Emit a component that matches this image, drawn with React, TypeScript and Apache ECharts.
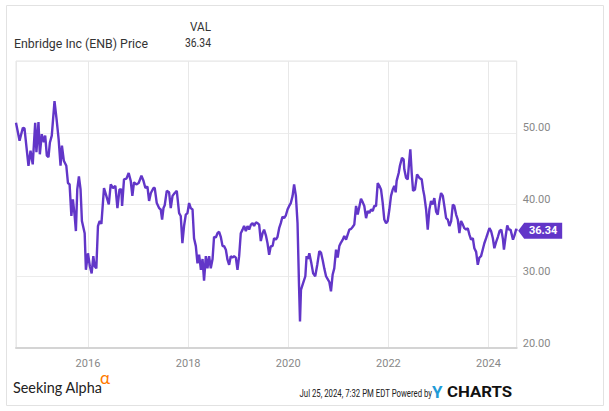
import React, { useEffect, useRef } from "react";
import * as echarts from "echarts";

const dates: string[] = [
  "2014-07-25","2014-08-20","2014-09-13","2014-09-25","2014-10-24","2014-11-08","2014-11-24","2014-12-12","2014-12-21",
  "2015-01-05","2015-01-15","2015-01-29","2015-02-13","2015-02-23","2015-03-07","2015-03-19","2015-03-29","2015-04-12","2015-05-02",
  "2015-05-17","2015-06-01","2015-06-15","2015-06-25","2015-07-09","2015-07-27","2015-08-08","2015-08-20","2015-09-02","2015-09-13",
  "2015-09-26","2015-10-05","2015-10-15","2015-10-27","2015-11-08","2015-11-18","2015-12-08","2015-12-17",
  "2016-01-01","2016-01-15","2016-01-28","2016-02-09","2016-02-19","2016-03-02","2016-03-14","2016-03-26","2016-04-08","2016-04-27",
  "2016-05-14","2016-06-01","2016-06-15","2016-07-02","2016-07-19","2016-08-03","2016-08-18","2016-09-01","2016-09-06","2016-09-20",
  "2016-10-08","2016-10-24","2016-11-08","2016-11-20","2016-12-02","2016-12-19",
  "2017-01-05","2017-01-25","2017-02-09","2017-02-23","2017-03-10","2017-03-22","2017-04-04","2017-04-23","2017-05-02","2017-05-17",
  "2017-06-03","2017-06-15","2017-06-25","2017-07-05","2017-07-14","2017-07-29","2017-08-15","2017-08-27","2017-09-09","2017-09-25",
  "2017-10-10","2017-10-27","2017-11-08","2017-11-20","2017-12-02","2017-12-15","2017-12-27",
  "2018-01-08","2018-01-20","2018-02-02","2018-02-13","2018-02-26","2018-03-10","2018-03-22","2018-04-04","2018-04-16","2018-04-27",
  "2018-05-10","2018-05-22","2018-06-03","2018-06-15","2018-06-28","2018-07-09","2018-07-22","2018-08-03","2018-08-15","2018-08-27",
  "2018-09-09","2018-09-20","2018-10-03","2018-10-15","2018-10-27","2018-11-08","2018-11-20","2018-12-02","2018-12-15","2018-12-27",
  "2019-01-08","2019-01-20","2019-02-02","2019-02-13","2019-02-26","2019-03-10","2019-03-22","2019-04-04","2019-04-16","2019-04-27",
  "2019-05-10","2019-05-22","2019-06-03","2019-06-15","2019-06-28","2019-07-09","2019-07-22","2019-08-03","2019-08-15","2019-08-27",
  "2019-09-09","2019-09-20","2019-10-03","2019-10-15","2019-10-27","2019-11-08","2019-11-20","2019-12-02","2019-12-15","2019-12-27",
  "2020-01-08","2020-01-20","2020-02-02","2020-02-13","2020-02-26","2020-03-09","2020-03-20","2020-03-27","2020-04-03","2020-04-18",
  "2020-05-05","2020-05-14","2020-05-24","2020-06-03","2020-06-18","2020-07-01","2020-07-16","2020-07-31","2020-08-15","2020-08-27",
  "2020-09-09","2020-09-20","2020-10-03","2020-10-15","2020-10-27","2020-11-08","2020-11-20","2020-12-02","2020-12-15","2020-12-27",
  "2021-01-08","2021-01-20","2021-02-02","2021-02-13","2021-02-26","2021-03-10","2021-03-22","2021-04-04","2021-04-16","2021-04-27",
  "2021-05-10","2021-05-22","2021-06-03","2021-06-15","2021-06-28","2021-07-09","2021-07-22","2021-08-03","2021-08-15","2021-08-27",
  "2021-09-09","2021-09-20","2021-10-03","2021-10-15","2021-10-27","2021-11-08","2021-11-20","2021-12-02","2021-12-15","2021-12-27",
  "2022-01-08","2022-01-20","2022-02-02","2022-02-13","2022-02-23","2022-03-02","2022-03-17","2022-03-26","2022-04-10","2022-04-22",
  "2022-04-27","2022-05-10","2022-05-22","2022-06-03","2022-06-10","2022-06-20","2022-06-30","2022-07-14","2022-07-29","2022-08-15",
  "2022-09-01","2022-09-11","2022-09-20","2022-10-03","2022-10-15","2022-10-27","2022-11-08","2022-11-20","2022-12-02","2022-12-15",
  "2022-12-27",
  "2023-01-08","2023-01-20","2023-02-02","2023-02-13","2023-02-26","2023-03-10","2023-03-22","2023-04-04","2023-04-16","2023-04-27",
  "2023-05-10","2023-05-22","2023-06-03","2023-06-15","2023-06-28","2023-07-09","2023-07-22","2023-08-03","2023-08-15","2023-08-27",
  "2023-09-09","2023-09-20","2023-10-03","2023-10-15","2023-10-27","2023-11-08","2023-11-20","2023-12-02","2023-12-15","2023-12-27",
  "2024-01-08","2024-01-20","2024-02-02","2024-02-13","2024-02-26","2024-03-10","2024-03-22","2024-04-04","2024-04-16","2024-04-23",
  "2024-05-05","2024-05-17","2024-05-29","2024-06-10","2024-06-28","2024-07-09","2024-07-22","2024-07-25",
];

const prices: number[] = [
  51.4, 48.9, 50.7, 50.6, 45.4, 47.5, 45.6, 51.4, 47.3,
  51.5, 47.0, 49.8, 48.7, 49.6, 46.8, 46.6, 48.6, 49.6, 54.4,
  51.9, 49.1, 45.4, 48.2, 46.1, 45.4, 43.0, 42.8, 38.4, 40.7,
  38.4, 36.3, 42.1, 43.9, 42.1, 37.7, 36.0, 30.9,
  33.2, 31.4, 30.4, 32.8, 31.4, 31.1, 37.0, 37.7, 37.3, 42.3,
  41.2, 40.0, 42.8, 42.3, 42.6, 39.5, 42.1, 42.1, 39.8, 43.5,
  43.6, 44.4, 43.3, 41.2, 43.1, 42.8,
  43.0, 44.0, 43.3, 42.3, 42.5, 40.5, 41.6, 42.3, 42.3, 40.2,
  39.5, 39.3, 37.9, 39.5, 39.9, 41.9, 41.7, 39.5, 41.2, 41.6,
  41.9, 38.8, 38.4, 34.6, 37.0, 38.6, 38.8,
  40.2, 39.5, 39.3, 35.3, 34.2, 31.8, 33.0, 30.9, 32.4, 29.4,
  32.8, 31.1, 32.8, 31.1, 32.4, 35.5, 35.4, 36.0, 36.2, 35.5,
  34.2, 34.2, 33.7, 32.3, 31.6, 32.8, 32.6, 32.8, 32.6, 30.9,
  32.8, 36.0, 36.5, 37.0, 36.3, 37.0, 36.5, 37.2, 37.4, 37.0,
  37.5, 37.4, 37.2, 34.9, 36.0, 36.5, 35.7, 34.6, 33.0, 34.2,
  34.2, 35.3, 35.1, 35.5, 36.7, 37.4, 38.3, 38.1, 38.5, 39.3,
  39.8, 40.2, 41.2, 42.8, 41.2, 37.4, 28.6, 23.7, 28.1, 29.0,
  30.0, 32.8, 32.4, 33.2, 31.8, 30.4, 30.0, 31.6, 33.5, 33.3,
  32.2, 31.1, 30.0, 29.6, 29.2, 27.9, 30.2, 31.1, 33.7, 32.6,
  34.2, 34.7, 35.1, 35.6, 35.1, 35.8, 36.5, 36.6, 36.9, 37.2,
  39.8, 38.6, 39.7, 40.8, 40.3, 39.8, 38.1, 39.1, 38.8, 39.3,
  39.1, 39.8, 39.8, 43.0, 42.6, 42.1, 40.3, 37.9, 37.4, 37.7,
  39.3, 41.2, 42.1, 42.6, 41.7, 43.3, 44.4, 45.4, 46.5, 46.3,
  44.9, 43.7, 43.5, 46.3, 47.7, 44.4, 41.9, 42.1, 44.2, 43.7,
  43.5, 42.1, 41.2, 39.3, 36.5, 39.3, 40.5, 40.0, 40.9, 39.0,
  38.6,
  40.4, 41.6, 41.2, 39.8, 38.1, 37.9, 37.0, 37.7, 40.0, 39.8,
  38.6, 37.9, 36.0, 37.7, 37.2, 36.7, 36.5, 36.7, 35.8, 35.1,
  35.3, 33.9, 33.4, 31.6, 32.6, 32.8, 33.7, 34.6, 35.3, 36.0,
  36.7, 36.3, 35.3, 33.9, 34.8, 35.5, 36.3, 36.5, 35.1, 33.7,
  35.5, 37.1, 36.5, 36.5, 35.1, 35.7, 36.6, 36.34,
];

const yTicks = { min: 20, max: 60, interval: 10 };
const xRange = { min: "2014-07-25", max: "2024-07-25" };
const seriesName = "Enbridge Inc (ENB) Price";

const PURPLE = "#6236c8";
const FONT = "Roboto, 'Noto Sans', sans-serif";

export default function App() {
  const ref = useRef<HTMLDivElement>(null);
  useEffect(() => {
    if (!ref.current) return;
    const chart = echarts.init(ref.current, null, { renderer: "svg" });
    const data = dates.map((d, i) => [d, prices[i]]);
    const last = prices[prices.length - 1];
    const lastDate = dates[dates.length - 1];
    chart.setOption({
      animation: false,
      backgroundColor: "#fff",
      grid: {
        left: 16,
        right: 92.3,
        top: 61,
        bottom: 63,
        show: true,
        borderColor: "#e4e4e4",
        borderWidth: 1,
      },
      xAxis: {
        type: "time",
        min: xRange.min,
        max: xRange.max,
        splitNumber: 5,
        axisLine: { show: true, lineStyle: { color: "#d4d4d4", width: 2 } },
        axisTick: { show: false },
        axisLabel: {
          formatter: "{yyyy}",
          color: "#888",
          fontSize: 11,
          fontFamily: FONT,
          margin: 10,
          showMinLabel: false,
          showMaxLabel: false,
          hideOverlap: false,
        },
        splitLine: { show: true, lineStyle: { color: "#e8e8e8", width: 1 } },
      },
      yAxis: {
        type: "value",
        position: "right",
        min: yTicks.min,
        max: yTicks.max,
        interval: yTicks.interval,
        axisLine: { show: false },
        axisTick: { show: false },
        axisLabel: {
          formatter: (v: number) => (v === yTicks.max ? "" : v.toFixed(2)),
          color: "#888",
          fontSize: 11,
          fontFamily: FONT,
          margin: 6,
          verticalAlign: "bottom",
          lineHeight: 10,
        },
        splitLine: { show: true, lineStyle: { color: "#ececec", width: 1 } },
      },
      series: [
        {
          name: seriesName,
          type: "line",
          data,
          showSymbol: false,
          symbol: "none",
          lineStyle: { color: PURPLE, width: 2.4 },
          itemStyle: { color: PURPLE },
          markPoint: {
            silent: true,
            symbol: "path://M0,8L6,0L44,0L44,16L6,16Z",
            symbolSize: [44, 16],
            symbolOffset: [23.5, 0],
            itemStyle: { color: PURPLE },
            label: {
              show: true,
              position: "inside",
              offset: [3, 0],
              color: "#fff",
              fontWeight: "bold",
              fontSize: 11,
              fontFamily: FONT,
              formatter: (p: any) => Number(p.value).toFixed(2),
            },
            data: [{ coord: [lastDate, last], value: last }],
          },
        },
      ],
      graphic: [
        {
          type: "rect",
          silent: true,
          shape: { x: 6.5, y: 5.5, width: 597, height: 400 },
          style: { fill: "none", stroke: "#e2e2e2", lineWidth: 1 },
        },
        {
          type: "text",
          x: 211,
          y: 27,
          scaleX: 0.9,
          style: { text: "VAL", align: "right", verticalAlign: "middle", font: `13px ${FONT}`, fill: "#333" },
        },
        {
          type: "text",
          x: 14,
          y: 43,
          scaleX: 0.95,
          style: { text: seriesName, align: "left", verticalAlign: "middle", font: `13px ${FONT}`, fill: "#333" },
        },
        {
          type: "text",
          x: 211,
          y: 43,
          scaleX: 0.8,
          style: { text: last.toFixed(2), align: "right", verticalAlign: "middle", font: `13px ${FONT}`, fill: "#333" },
        },
        {
          type: "text",
          x: 13,
          y: 387,
          scaleX: 0.9,
          style: { text: "Seeking Alpha", align: "left", verticalAlign: "middle", font: `16px Lato, 'Open Sans', sans-serif`, fill: "#222" },
        },
        {
          type: "text",
          x: 100,
          y: 377,
          style: { text: "α", align: "left", verticalAlign: "middle", font: `17px Lato, 'Open Sans', sans-serif`, fill: "#ff7a00" },
        },
        {
          type: "text",
          x: 432,
          y: 393,
          scaleX: 0.71,
          style: { text: "Jul 25, 2024, 7:32 PM EDT Powered by", align: "right", verticalAlign: "middle", font: `11px ${FONT}`, fill: "#222" },
        },
        {
          type: "text",
          x: 432,
          y: 392,
          style: { text: "Y", align: "left", verticalAlign: "middle", font: `bold 17px ${FONT}`, fill: "#1e9bd7" },
        },
        {
          type: "text",
          x: 447,
          y: 392,
          scaleX: 1.2,
          style: { text: "CHARTS", align: "left", verticalAlign: "middle", font: `bold 14px ${FONT}`, fill: "#111" },
        },
      ],
    });
    return () => chart.dispose();
  }, []);
  return (
    <div
      ref={ref}
      style={{ position: "fixed", left: 0, top: 0, width: 609, height: 411, background: "#fff" }}
    />
  );
}
